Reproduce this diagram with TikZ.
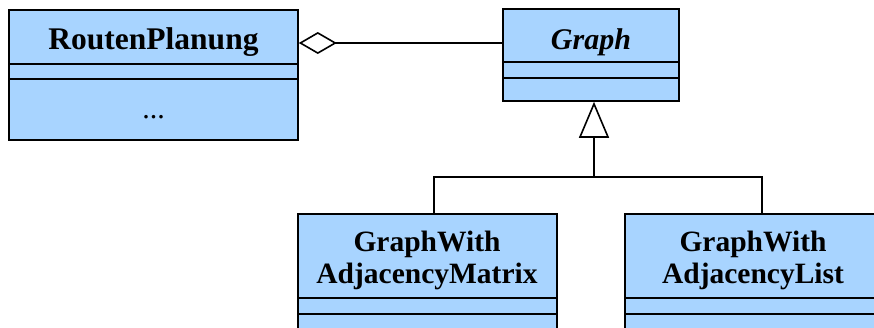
\documentclass[tikz,border=0pt]{standalone}
\usepackage{fontspec}
\setmainfont{Liberation Serif}
\usetikzlibrary{arrows.meta}
\definecolor{classfill}{RGB}{168,212,255}
\tikzset{
  classbox/.style={draw=black, line width=1.6pt, fill=classfill, rectangle, inner sep=0pt},
  divider/.style={line width=1.6pt},
  title/.style={font=\fontsize{29.5}{32}\selectfont\bfseries, align=center, inner sep=0pt},
  body/.style={font=\fontsize{30}{32}\selectfont, inner sep=0pt},
  link/.style={line width=1.6pt},
  aggr/.style={link, -{Diamond[open, length=38pt, width=22pt, line width=1.6pt]}},
  inherit/.style={link, -{Triangle[open, length=36pt, width=30pt, line width=1.6pt]}}
}
\begin{document}
\begin{tikzpicture}[x=1pt, y=-1pt]
  \clip (0,0) rectangle (874,327);
  \fill[white] (0,0) rectangle (874,327);

  % class RoutenPlanung
  \node[classbox, minimum width=289pt, minimum height=130pt] (rp) at (153.5,75) {};
  \draw[divider] (rp.west |- 0,64) -- (rp.east |- 0,64);
  \draw[divider] (rp.west |- 0,79) -- (rp.east |- 0,79);
  \node[title, font=\fontsize{31.5}{32}\selectfont\bfseries, anchor=base] (rpname) at (153.5,49) {RoutenPlanung};
  \node[body, anchor=base] (rpops) at (153.5,118) {...};

  % abstract class Graph
  \node[classbox, minimum width=176pt, minimum height=92pt] (g) at (591,55) {};
  \draw[divider] (g.west |- 0,62) -- (g.east |- 0,62);
  \draw[divider] (g.west |- 0,78) -- (g.east |- 0,78);
  \node[title, font=\fontsize{30}{32}\selectfont\bfseries\itshape, anchor=base] (gname) at (591,49) {Graph};

  % class GraphWithAdjacencyMatrix
  \node[classbox, minimum width=259pt, minimum height=160pt] (m) at (427.5,294) {};
  \draw[divider] (m.west |- 0,298) -- (m.east |- 0,298);
  \draw[divider] (m.west |- 0,314) -- (m.east |- 0,314);
  \node[title] (mname) at (427,260) {GraphWith\\AdjacencyMatrix};

  % class GraphWithAdjacencyList
  \node[classbox, minimum width=274pt, minimum height=160pt] (l) at (762,294) {};
  \draw[divider] (l.west |- 0,298) -- (l.east |- 0,298);
  \draw[divider] (l.west |- 0,314) -- (l.east |- 0,314);
  \node[title] (lname) at (753,260) {GraphWith\\AdjacencyList};

  % aggregation RoutenPlanung <>--- Graph
  \draw[aggr] ([yshift=12pt]g.west) -- ([yshift=32pt]rp.east);

  % generalisation tree
  \coordinate (j) at (594,177);
  \draw[link] ([xshift=6.5pt]m.north) |- (j) -| (l.north);
  \draw[inherit] (j) -- (g.south -| j);
\end{tikzpicture}
\end{document}
